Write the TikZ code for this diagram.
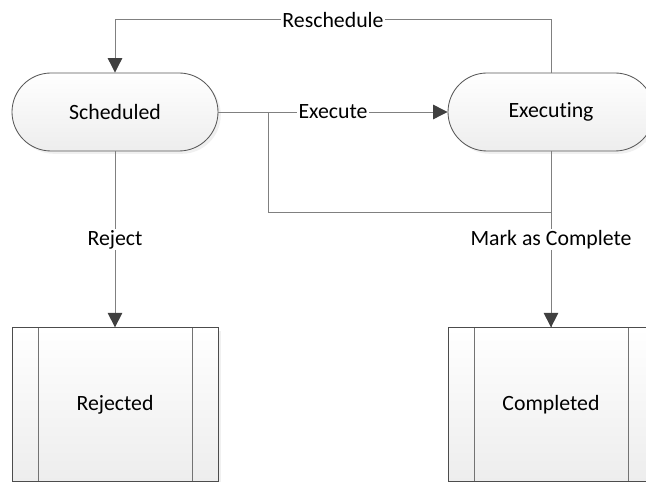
\documentclass[tikz,border=0pt]{standalone}
\usepackage{xcolor}
\usepackage{fontspec}
\setmainfont{Carlito}[Ligatures=NoCommon]
\usepackage{tikz}
\usetikzlibrary{positioning,arrows.meta,calc,shadows}

\begin{document}
\begin{tikzpicture}[
  font=\fontsize{15.5}{18}\selectfont,
  state/.style={draw=black!65, line width=0.6pt, rounded corners=0.975cm,
              top color=white, bottom color=black!7,
              drop shadow={opacity=0.12, shadow xshift=2pt, shadow yshift=-2pt},
              minimum width=5.15cm, minimum height=1.95cm, text centered},
  endbox/.style={draw=black!70, line width=0.6pt,
              top color=white, bottom color=black!7,
              drop shadow={opacity=0.12, shadow xshift=2pt, shadow yshift=-2pt},
              minimum width=5.15cm, minimum height=3.83cm, text centered,
              path picture={
                \draw[black!55, line width=0.6pt]
                  ($(path picture bounding box.north west)+(0.65,0)$) --
                  ($(path picture bounding box.south west)+(0.65,0)$);
                \draw[black!55, line width=0.6pt]
                  ($(path picture bounding box.north east)+(-0.65,0)$) --
                  ($(path picture bounding box.south east)+(-0.65,0)$);}},
  lbl/.style={midway, fill=white, text=black, inner sep=1pt},
  line/.style={line width=0.7pt, color=black!50},
  arr/.style={line, -{Triangle[length=0.36cm, width=0.36cm, color=black!75]}},
]
\useasboundingbox (0,0) rectangle (16.15,-12.05);

\node[state]  (sch) at (2.875,-2.8)   {Scheduled};
\node[state]  (exe) at (13.775,-2.8)  {Executing};
\node[endbox] (rej) at (2.875,-10.11) {Rejected};
\node[endbox] (com) at (13.775,-10.11) {Completed};

% scheduled straight to completed
\draw[line] (sch.east) -| (6.7,-5.3) -| (com.north);

\draw[arr] (exe.north) -- ++(0,1.325) -| node[lbl, pos=0.25]{Reschedule} (sch.north);
\draw[arr] (sch) -- node[lbl]{Execute} (exe);
\draw[arr] (sch) -- node[lbl]{Reject} (rej);
\draw[arr] (exe) -- node[lbl]{Mark as Complete} (com);
\end{tikzpicture}
\end{document}
